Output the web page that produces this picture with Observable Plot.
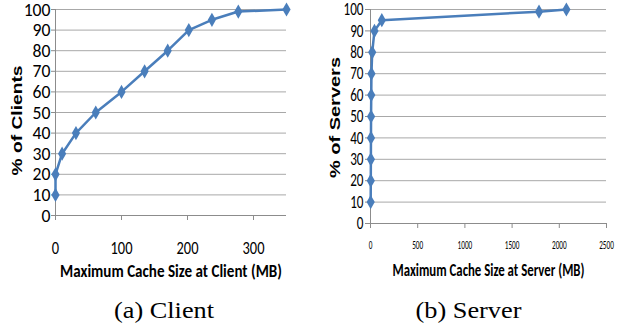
<!DOCTYPE html>
<html><head><meta charset="utf-8">
<script src="https://cdn.jsdelivr.net/npm/d3@7"></script>
<script src="https://cdn.jsdelivr.net/npm/@observablehq/plot@0.6"></script>
<style>
body{margin:0;background:#fff;}
#wrap{position:relative;width:625px;height:335px;overflow:hidden;}
.panel{position:absolute;top:0;}
</style></head><body><div id="wrap"></div>
<script>
// Client CDF
const clientPct = [10, 20, 30, 40, 50, 60, 70, 80, 90, 95, 99, 100];
const clientMB  = [0, 0, 10, 31, 61, 100, 135, 170, 202, 237, 277, 350];
// Server CDF
const serverPct = [10, 20, 30, 40, 50, 60, 70, 80, 90, 95, 99, 100];
const serverMB  = [2, 3, 4, 5, 6, 8, 10, 18, 42, 120, 1785, 2075];

const yTicks = [0, 10, 20, 30, 40, 50, 60, 70, 80, 90, 100];
const clientXTicks = [0, 100, 200, 300];
const serverXTicks = [0, 500, 1000, 1500, 2000, 2500];

const titles = {
  clientY: "% of Clients", serverY: "% of Servers",
  clientX: "Maximum Cache Size at Client (MB)", serverX: "Maximum Cache Size at Server (MB)",
  clientCap: "(a) Client", serverCap: "(b) Server"
};

const CAL = "Carlito,'Open Sans',sans-serif";
const BLUE = "#4a7ebb";

function panel(o) {
  const data = o.xs.map((x, i) => ({x, y: o.ys[i]}));
  return Plot.plot({
    width: o.width, height: 335,
    marginLeft: o.ml, marginRight: o.mr, marginTop: o.mt, marginBottom: o.mb,
    style: {fontFamily: CAL, background: "transparent", overflow: "visible"},
    x: {domain: o.xDomain},
    y: {domain: [0, 100]},
    marks: [
      Plot.gridY(yTicks, {stroke: "#a8a8a8", strokeOpacity: 1, strokeWidth: 1}),
      Plot.ruleX([0], {stroke: "#8c8c8c"}),
      Plot.ruleY([0], {stroke: "#8c8c8c"}),
      Plot.axisY(yTicks, {tickSize: o.yTickSize, tickPadding: o.yTickPad, stroke: "#8c8c8c", fontSize: o.yFont, fill: "#000", label: null, tickFormat: d3.format("d"), className: "ytick"}),
      Plot.axisX(o.xTicks, {tickSize: 5, tickPadding: o.xTickPad, stroke: "#8c8c8c", fontSize: o.xFont, fill: "#000", label: null, tickFormat: d3.format("d"), className: "xtick"}),
      Plot.line(data, {x: "x", y: "y", stroke: BLUE, strokeWidth: 2.5}),
      Plot.dot(data, {x: "x", y: "y", symbol: "diamond", r: 4.3, fill: BLUE, stroke: null}),
      Plot.text([o.yLabel], {frameAnchor: "left", dx: o.yLabDx, dy: o.yLabDy, rotate: -90, fontWeight: "bold", fontSize: 15.5, fontFamily: "'Liberation Sans',Arial,sans-serif", fill: "#000", className: "ylab"}),
      Plot.text([o.xLabel], {frameAnchor: "bottom", dy: o.xLabDy, fontWeight: "bold", fontSize: 19, fill: "#000", className: "xlab"}),
      Plot.text([o.cap], {frameAnchor: "bottom", dx: o.capDx, dy: o.capDy, fontSize: 23, fontFamily: "'Liberation Serif','Times New Roman',serif", fill: "#000", className: "cap"})
    ]
  });
}

const wrap = document.getElementById("wrap");
const left = panel({
  width: 312, ml: 55, mr: 26, mt: 9, mb: 120,
  xDomain: [0, 350], xTicks: clientXTicks, xs: clientMB, ys: clientPct,
  yTickSize: 4, yTickPad: 1, yFont: 19, xFont: 18.5, xTickPad: 20,
  yLabel: titles.clientY, yLabDx: -38, yLabDy: 8,
  xLabel: titles.clientX, xLabDy: 61,
  cap: titles.clientCap, capDx: -7, capDy: 102
});
left.classList.add("panel"); left.style.left = "0px";
const right = panel({
  width: 313, ml: 58, mr: 19, mt: 9, mb: 112,
  xDomain: [0, 2500], xTicks: serverXTicks, xs: serverMB, ys: serverPct,
  yTickSize: 5, yTickPad: 2, yFont: 17.5, xFont: 12.7, xTickPad: 11,
  yLabel: titles.serverY, yLabDx: -35, yLabDy: 1,
  xLabel: titles.serverX, xLabDy: 52.7,
  cap: titles.serverCap, capDx: -20, capDy: 94
});
right.classList.add("panel"); right.style.left = "312px";
wrap.appendChild(left); wrap.appendChild(right);

// horizontal squeeze of tick labels (the reference glyphs are tall and narrow)
function squeeze(svg, cls, sx) {
  svg.querySelectorAll("g." + cls + " text").forEach(t => {
    const tr = t.getAttribute("transform") || "";
    t.setAttribute("transform", tr + ` scale(${sx},1)`);
  });
}
squeeze(left, "ytick", 0.93);
squeeze(left, "xtick", 0.78);
squeeze(right, "ytick", 0.75);
squeeze(right, "xtick", 0.57);

// fit label widths to the reference, keeping them centred
function fit(svg, cls, len) {
  svg.querySelectorAll("g." + cls + " text").forEach(t => {
    t.setAttribute("text-anchor", "start");
    const x0 = +(t.getAttribute("x") || 0);
    t.setAttribute("x", x0 - len / 2);
    t.setAttribute("textLength", len);
    t.setAttribute("lengthAdjust", "spacingAndGlyphs");
  });
}
fit(left, "xlab", 222); fit(left, "ylab", 110); fit(left, "cap", 100);
fit(right, "xlab", 192); fit(right, "ylab", 121); fit(right, "cap", 106);
</script></body></html>
